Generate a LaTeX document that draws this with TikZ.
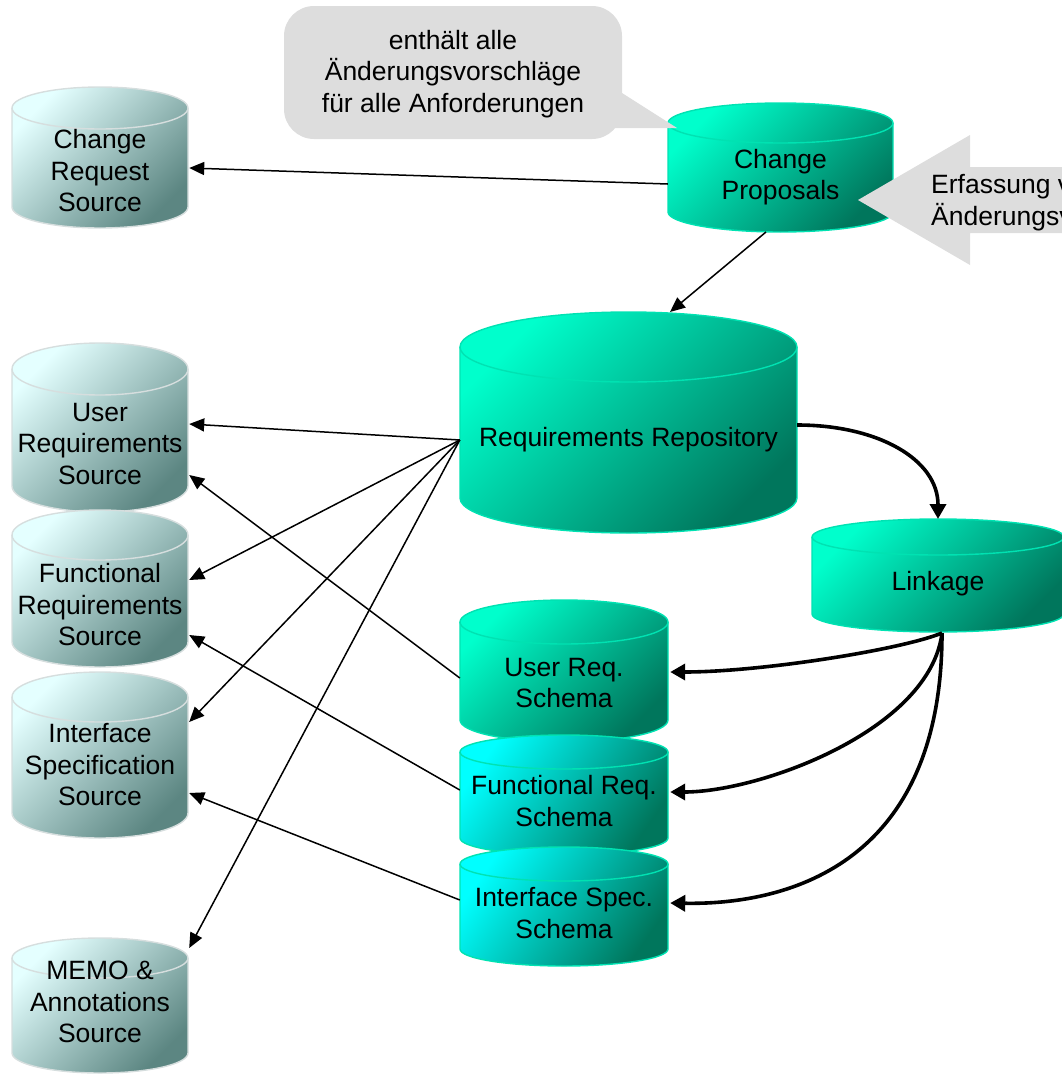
\documentclass[tikz,border=0pt]{standalone}
\usepackage{fontspec}
\setmainfont{Liberation Sans}
\usetikzlibrary{arrows.meta,calc}

\definecolor{brtL}{RGB}{0,255,204}
\definecolor{brtD}{RGB}{0,118,92}
\definecolor{brtEdge}{RGB}{0,226,178}
\definecolor{cyL}{RGB}{0,255,255}
\definecolor{paleL}{RGB}{228,255,255}
\definecolor{paleD}{RGB}{92,134,130}
\definecolor{paleEdge}{RGB}{214,222,222}
\definecolor{note}{RGB}{221,221,221}

% cylinder: #1 fill style, #2 edge colour, #3 left x, #4 right x, #5 top y, #6 bottom y, #7 ellipse half-height
\newcommand\dbcyl[7]{%
  \pgfmathsetmacro\cxc{(#3+#4)/2}%
  \pgfmathsetmacro\crx{(#4-#3)/2}%
  \pgfmathsetmacro\cyt{#5+#7}%
  \pgfmathsetmacro\cyb{#6-#7}%
  \pgfmathsetmacro\ckx{0.5523*\crx}%
  \pgfmathsetmacro\cky{0.5523*#7}%
  \path[#1, draw=#2, line width=1.4pt] (#3,\cyt) -- (#3,\cyb)
    .. controls (#3,\cyb+\cky) and (\cxc-\ckx,#6) .. (\cxc,#6)
    .. controls (\cxc+\ckx,#6) and (#4,\cyb+\cky) .. (#4,\cyb)
    -- (#4,\cyt)
    .. controls (#4,\cyt-\cky) and (\cxc+\ckx,#5) .. (\cxc,#5)
    .. controls (\cxc-\ckx,#5) and (#3,\cyt-\cky) .. (#3,\cyt) -- cycle;
  \draw[draw=#2, line width=1.4pt] (#3,\cyt)
    .. controls (#3,\cyt+\cky) and (\cxc-\ckx,\cyt+#7) .. (\cxc,\cyt+#7)
    .. controls (\cxc+\ckx,\cyt+#7) and (#4,\cyt+\cky) .. (#4,\cyt);
}

\begin{document}
\begin{tikzpicture}[x=1pt,y=-1pt,
  lbl/.style={align=center, font=\fontsize{26.5}{31.5}\selectfont, inner sep=0pt, text=black},
  bright/.style={top color=brtL, bottom color=brtD, shading angle=45},
  cyanish/.style={top color=cyL, bottom color=brtD, shading angle=55},
  pale/.style={top color=paleL, bottom color=paleD, shading angle=45},
  thinlink/.style={line width=1.5pt, -{Triangle[length=15pt,width=13pt]}},
  thicklink/.style={line width=3.6pt, -{Triangle[length=15pt,width=16pt]}},
  callout/.style={fill=note}]

\useasboundingbox (0,0) rectangle (1062,1076);
\clip (0,0) rectangle (1062,1076);

% source stores on the left
\dbcyl{pale}{paleEdge}{12}{188}{87}{228}{21}
\dbcyl{pale}{paleEdge}{12}{188}{343}{512}{26}
\dbcyl{pale}{paleEdge}{12}{188}{510}{667}{25}
\dbcyl{pale}{paleEdge}{12}{188}{672}{838}{25}
\dbcyl{pale}{paleEdge}{12}{188}{938}{1073}{20}

% central stores
\dbcyl{bright}{brtEdge}{668}{893}{103}{232}{20}
\dbcyl{bright}{brtEdge}{460}{797}{312}{533}{35}
\dbcyl{bright}{brtEdge}{812}{1064}{519}{632}{18}
\dbcyl{bright}{brtEdge}{460}{668}{600}{742}{22}
\dbcyl{cyanish}{brtEdge}{460}{668}{735}{855}{17}
\dbcyl{cyanish}{brtEdge}{460}{668}{847}{966}{17}

% labels
\node[lbl, minimum width=176pt] (crs)  at (100,171)   {Change\\Request\\Source};
\node[lbl, minimum width=176pt] (usrc) at (100,444)   {User\\Requirements\\Source};
\node[lbl, minimum width=176pt] (fsrc) at (100,605)   {Functional\\Requirements\\Source};
\node[lbl, minimum width=176pt] (isrc) at (100,765)   {Interface\\Specification\\Source};
\node[lbl, minimum width=176pt] (memo) at (100,1002)  {MEMO \&\\Annotations\\Source};
\node[lbl, minimum width=225pt] (cp)   at (780.5,177) {Change\\Proposals};
\node[lbl, minimum width=337pt] (rr)   at (628.5,440) {Requirements Repository};
\node[lbl, minimum width=252pt] (lk)   at (938,584)   {Linkage};
\node[lbl, minimum width=208pt] (usch) at (564,683)   {User Req.\\Schema};
\node[lbl, minimum width=208pt] (fsch) at (564,801)   {Functional Req.\\Schema};
\node[lbl, minimum width=208pt] (isch) at (564,913)   {Interface Spec.\\Schema};

% speech bubble
\fill[callout, rounded corners=30pt] (284,6) -- (622,6) -- (622,139) -- (284,139) -- cycle;
\fill[callout] (610,93) -- (622,93) -- (677,128) -- (610,128) -- cycle;
\node[lbl] (bubble) at (453,74) {enthält alle\\Änderungsvorschläge\\für alle Anforderungen};

% input arrow on the right
\fill[callout] (858,200) -- (970,135) -- (970,167) -- (1070,167) -- (1070,233)
  -- (970,233) -- (970,265) -- cycle;
\node[lbl, anchor=west, align=left] (input) at (931,202.5) {Erfassung v\\Änderungsv};

% thin connectors
\draw[thinlink] ($(cp.west)+(0,7)$) -- ($(crs.east)+(1,-3)$);
\draw[thinlink] ($(cp.center)+(-14.5,55)$) -- ($(rr.center)+(41.5,-128)$);
\draw[thinlink] (rr.west) -- ($(usrc.east)+(1,-20)$);
\draw[thinlink] (rr.west) -- ($(fsrc.east)+(1,-25)$);
\draw[thinlink] (rr.west) -- ($(isrc.east)+(1,-43)$);
\draw[thinlink] (rr.west) -- ($(memo.east)+(1,-54)$);
\draw[thinlink] ($(usch.west)+(0,-5)$) -- ($(usrc.east)+(1,31)$);
\draw[thinlink] ($(fsch.west)+(0,-11)$) -- ($(fsrc.east)+(1,30)$);
\draw[thinlink] ($(isch.west)+(0,-13)$) -- ($(isrc.east)+(1,28)$);

% thick curved links
\draw[thicklink] ($(rr.east)+(0,-15)$) .. controls +(80,0) and +(0,-60) .. ($(lk.center)+(0,-65)$);
\coordinate (lkout) at ($(lk.center)+(4,49)$);
\draw[thicklink] (lkout) .. controls +(-42,17) and +(90,0) .. ($(usch.east)+(2,-11)$);
\draw[thicklink] (lkout) .. controls +(-12,97) and +(90,0) .. ($(fsch.east)+(2,-9)$);
\draw[thicklink] (lkout) .. controls +(0,237) and +(110,2) .. ($(isch.east)+(2,-10)$);

\end{tikzpicture}
\end{document}
